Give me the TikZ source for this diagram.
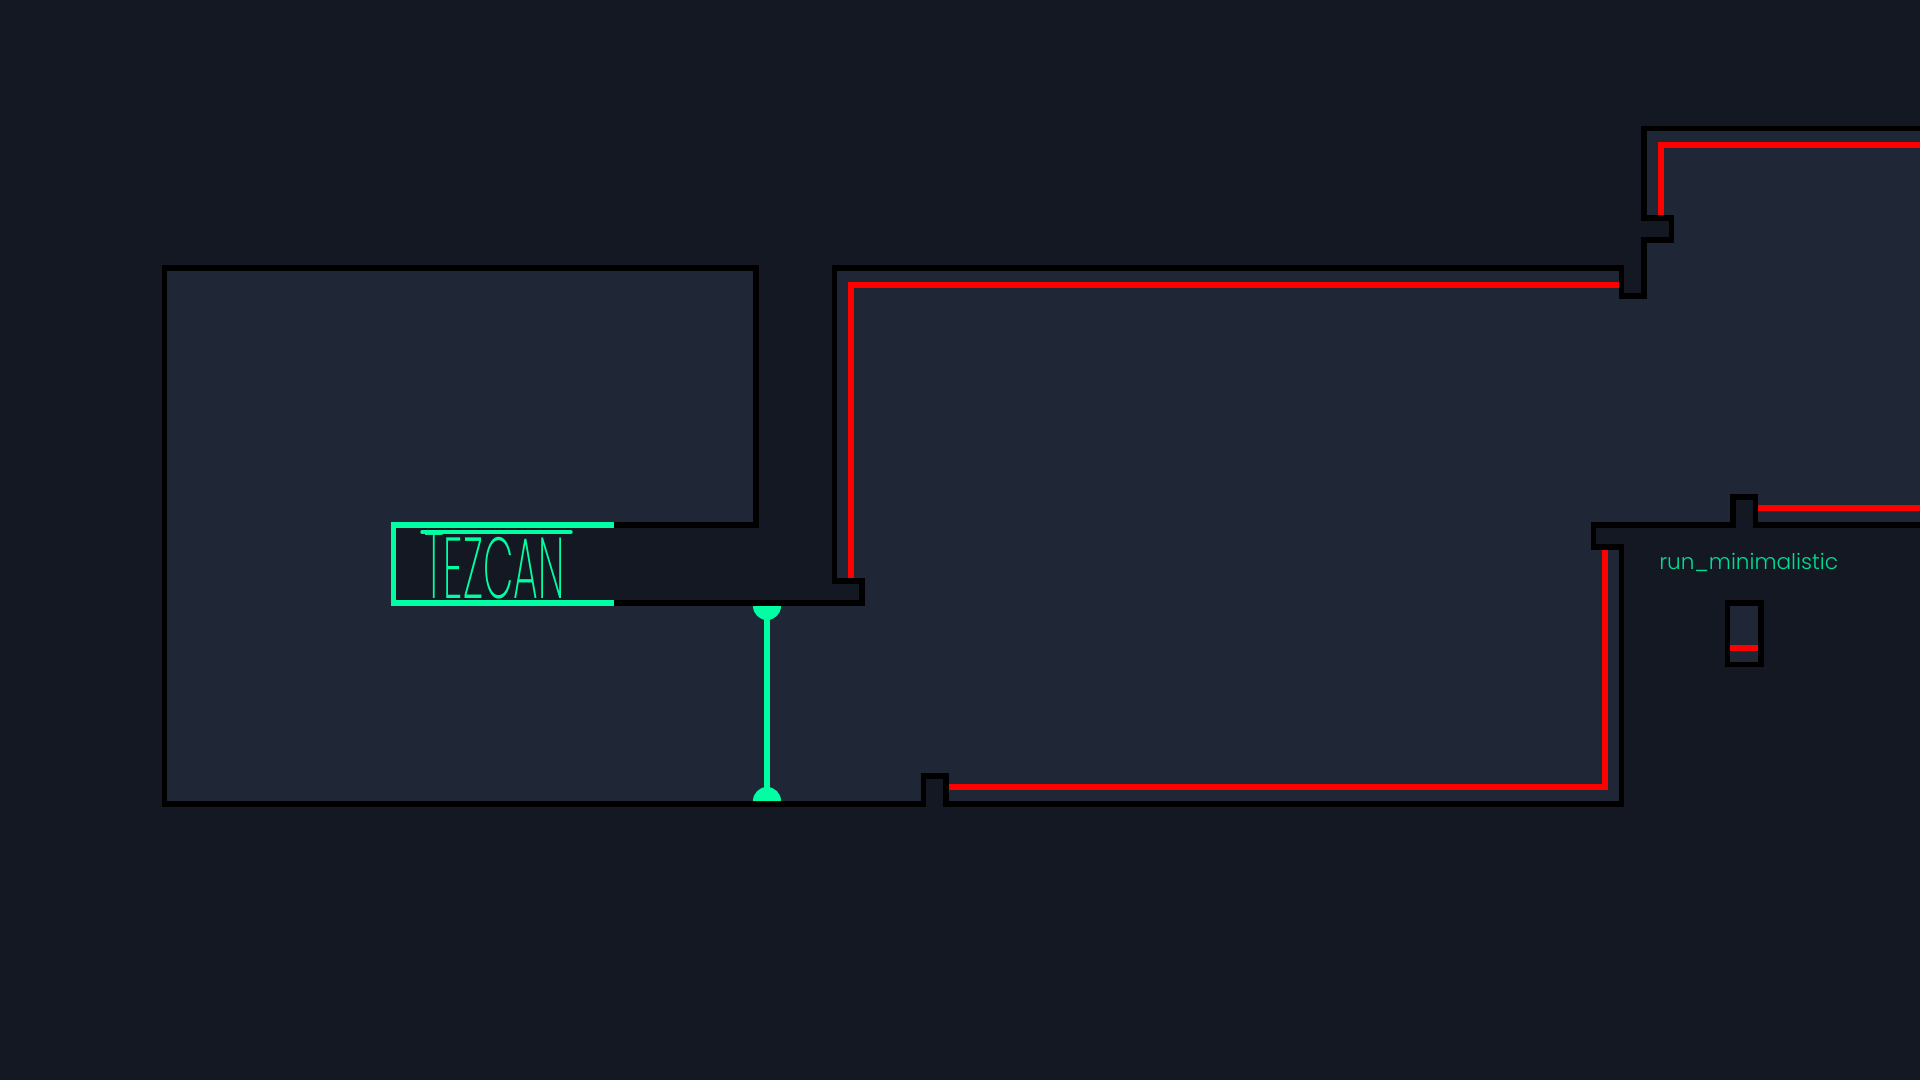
\documentclass[tikz,border=0pt]{standalone}
\usepackage{fontspec}
\newfontfamily\logofont{Poppins ExtraLight}
\newfontfamily\labelfont{Poppins Light}
\definecolor{voidDark}{RGB}{19,24,34}
\definecolor{floorBlue}{RGB}{31,38,54}
\definecolor{mintBright}{RGB}{0,255,163}
\definecolor{mintDim}{RGB}{0,222,148}
\tikzset{
  wallline/.style={draw=black,line width=4.2pt,miter limit=10},
  redline/.style={draw=red,line width=4.4pt},
  mintline/.style={draw=mintBright,line width=4.4pt}
}
\begin{document}
\begin{tikzpicture}[x=0.75pt,y=0.75pt,yscale=-1]
\useasboundingbox (0,0) rectangle (1920,1080);
%Background
\fill [voidDark] (0,0) rectangle (1920,1080);

%Floor outline
\draw [wallline,fill=floorBlue] (164.5,268) -- (756,268) -- (756,525) -- (393.5,525) -- (393.5,603) -- (862,603) -- (862,581) -- (834.5,581) -- (834.5,268) -- (1621.5,268) -- (1621.5,296) -- (1644,296) -- (1644,240) -- (1671.5,240) -- (1671.5,218) -- (1644,218) -- (1644,128.5) -- (1950,128.5) -- (1950,525) -- (1755.5,525) -- (1755.5,497) -- (1733,497) -- (1733,525) -- (1593.5,525) -- (1593.5,547) -- (1621.5,547) -- (1621.5,804) -- (946,804) -- (946,776) -- (923.5,776) -- (923.5,804) -- (164.5,804) -- cycle ;
%Small block
\draw [wallline,fill=floorBlue] (1727.5,603) rectangle (1761,664.5) ;

%Red lines
\draw [redline] (851,578) -- (851,285) -- (1619,285) ;
\draw [redline] (1661,215) -- (1661,145) -- (1950,145) ;
\draw [redline] (949,787) -- (1605,787) -- (1605,550) ;
\draw [redline] (1758,508) -- (1950,508) ;
\draw [redline] (1730,648) -- (1758,648) ;

%Logo frame
\draw [mintline] (614,525) -- (393.5,525) -- (393.5,603) -- (614,603) ;
\draw [draw=mintBright,line width=2.6pt,line cap=round] (422,532) -- (571,532) ;

%Door
\draw [draw=mintBright,line width=4.2pt] (767,606) -- (767,801) ;
\fill [mintBright] (753,606) arc (180:0:14) -- cycle ;
\fill [mintBright] (753,801) arc (180:360:14) -- cycle ;

% Text Node
\draw (424,598.5) node (logoText) [anchor=base west,inner sep=0pt,text=mintBright] {\resizebox{105pt}{50pt}{\logofont\scalebox{1}[1.1]{T}EZCAN}};
% Text Node
\draw (1659,569) node (runLabel) [anchor=base west,inner sep=0pt,text=mintDim] {\resizebox{134pt}{!}{\labelfont run\_minimalistic}};
\end{tikzpicture}
\end{document}
